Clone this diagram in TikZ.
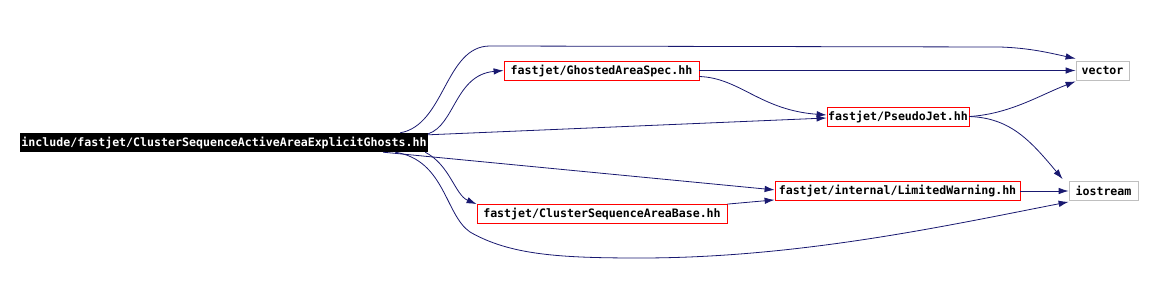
\documentclass[tikz,border=0pt]{standalone}
\usepackage{fontspec}
\setmonofont{DejaVu Sans Mono}
\usetikzlibrary{arrows.meta}
\definecolor{edgeblue}{RGB}{25,25,112}
\definecolor{boxgray}{RGB}{191,191,191}
\begin{document}
\begin{tikzpicture}[x=1pt,y=-1pt,
  every node/.style={font=\ttfamily\bfseries\fontsize{11.6}{12}\selectfont,
    inner sep=0pt, minimum height=19pt},
  hdr/.style={draw=red, line width=0.8pt, fill=white},
  sys/.style={draw=boxgray, line width=0.8pt, fill=white},
  topfile/.style={fill=black, text=white},
  dep/.style={draw=edgeblue, line width=0.8pt, -{Latex[length=10pt,width=6.5pt]}}]
\useasboundingbox (0,0) rectangle (1153,297);
\path node[topfile, minimum width=408pt] (CSAAEG) at (224,142.5) {include/fastjet/ClusterSequenceActiveAreaExplicitGhosts.hh}
node[hdr, minimum width=195pt] (GAS) at (601.5,70.5) {fastjet/GhostedAreaSpec.hh}
node[hdr, minimum width=142pt] (PJ) at (898,116.5) {fastjet/PseudoJet.hh}
node[hdr, minimum width=245pt] (LW) at (897.5,191) {fastjet/internal/LimitedWarning.hh}
node[hdr, minimum width=250pt] (CSAB) at (602,214) {fastjet/ClusterSequenceAreaBase.hh}
node[sys, minimum width=53pt] (V) at (1102.5,70.5) {vector}
node[sys, minimum width=69pt] (IO) at (1103.5,191) {iostream}
;
\draw[dep] ([xshift=-28pt]CSAAEG.north east) .. controls (445,125) and (445,46) .. (490,46)
  -- (1000,47) .. controls (1030,48) and (1050,53) .. ([yshift=2pt]V.north west);
\draw[dep] ([yshift=-1pt]CSAAEG.north east) .. controls (455,125) and (455,75) .. (GAS.west);
\draw[dep] ([yshift=-2pt]CSAAEG.north east) -- ([yshift=-1.5pt]PJ.west);
\draw[dep] ([xshift=-45pt]CSAAEG.south east) -- ([yshift=11pt]LW.south west);
\draw[dep] ([xshift=-3pt]CSAAEG.south east) .. controls (450,165) and (455,195) .. (CSAB.north west);
\draw[dep] ([xshift=-33pt]CSAAEG.south east) .. controls (445,160) and (445,215) .. (470,232)
  .. controls (510,255) and (560,258) .. (640,258)
  .. controls (800,258) and (950,225) .. ([yshift=-1pt]IO.south west);
\draw[dep] (GAS.east) -- (V.west);
\draw[dep] ([yshift=-6pt]GAS.east) .. controls (740,78) and (760,110) .. ([yshift=1.5pt]PJ.west);
\draw[dep] (PJ.east) .. controls (1010,114) and (1040,95) .. ([yshift=-1pt]V.south west);
\draw[dep] (PJ.east) .. controls (1010,118) and (1030,140) .. ([xshift=-6pt,yshift=2pt]IO.north west);
\draw[dep] (LW.east) -- (IO.west);
\draw[dep] (CSAB.north east) -- ([yshift=1pt]LW.south west);
\end{tikzpicture}
\end{document}
